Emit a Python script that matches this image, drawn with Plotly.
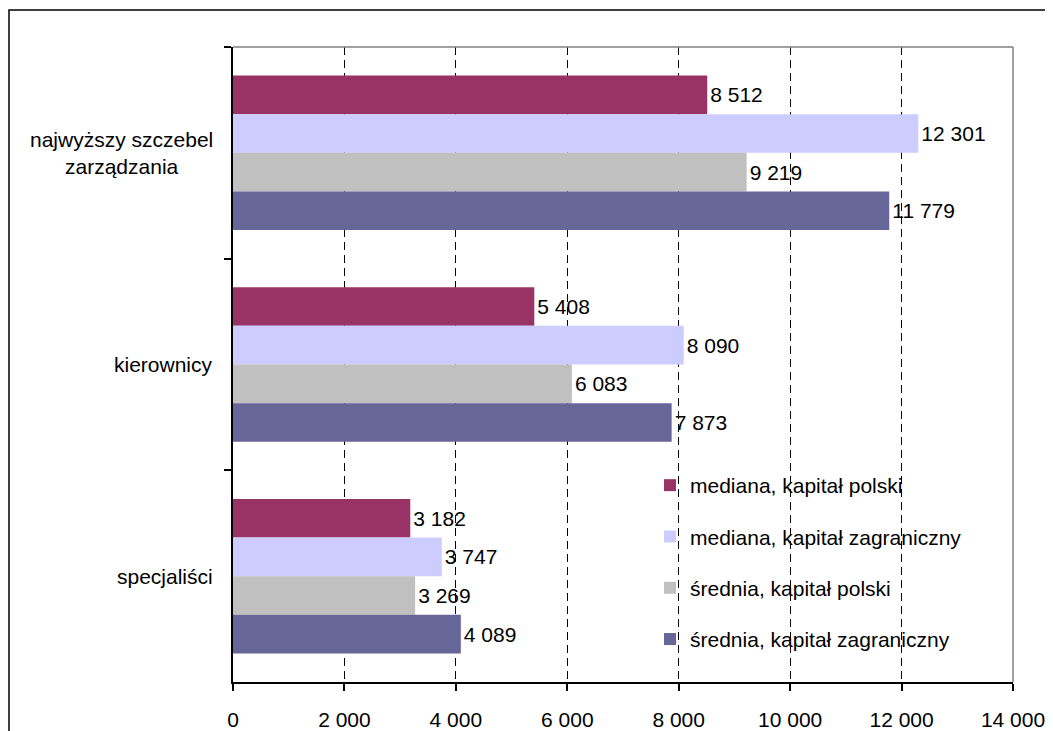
import plotly.graph_objects as go

categories = ["najwyższy szczebel zarządzania", "kierownicy", "specjaliści"]
category_labels = ["najwyższy szczebel<br>zarządzania", "kierownicy", "specjaliści"]
series_names = ["mediana, kapitał polski", "mediana, kapitał zagraniczny",
                "średnia, kapitał polski", "średnia, kapitał zagraniczny"]
mediana_polski = [8512, 5408, 3182]
mediana_zagraniczny = [12301, 8090, 3747]
srednia_polski = [9219, 6083, 3269]
srednia_zagraniczny = [11779, 7873, 4089]
x_ticks = [0, 2000, 4000, 6000, 8000, 10000, 12000, 14000]

series_values = [mediana_polski, mediana_zagraniczny, srednia_polski, srednia_zagraniczny]
colors = ["#993366", "#CCCCFF", "#C0C0C0", "#666699"]

FONT = "Liberation Sans, Arial, sans-serif"
FS = 21

fig = go.Figure()
for i, (name, vals) in enumerate(zip(series_names, series_values)):
    fig.add_trace(go.Bar(
        y=categories, x=vals, name=name, orientation="h",
        marker=dict(color=colors[i], line=dict(width=0)),
        text=vals, texttemplate="%{x:,d}", textposition="outside",
        textfont=dict(size=FS, color="black", family=FONT),
        cliponaxis=False, legendgroup=f"g{i}",
    ))

# page has an 8px body margin, so figure coordinates are offset by 8px
OFF = 8
W, H = 1053 - OFF, 731 - OFF
L, R, T, B = 233 - OFF, 1013 - OFF, 47 - OFF, 682 - OFF
pw, ph = R - L, B - T

def px_x(p):
    return (p - OFF - L) / pw

def px_y(p):
    return (B - (p - OFF)) / ph

shapes = [
    dict(type="line", xref="paper", yref="paper", x0=0, x1=1, y0=1, y1=1,
         line=dict(color="#808080", width=1.5), layer="above"),
    dict(type="line", xref="paper", yref="paper", x0=1, x1=1, y0=0, y1=1,
         line=dict(color="#808080", width=1.5), layer="above"),
    dict(type="rect", xref="paper", yref="paper",
         x0=px_x(9), x1=px_x(1090), y0=px_y(770), y1=px_y(10),
         line=dict(color="black", width=1.5), fillcolor="rgba(0,0,0,0)", layer="above"),
]

annotations = []
for cat, lab in zip(categories, category_labels):
    annotations.append(dict(
        xref="paper", yref="y", x=-18 / pw, y=cat, text=lab, showarrow=False,
        xanchor="right", yanchor="middle", align="center",
        font=dict(size=FS, color="black", family=FONT),
    ))

fig.update_layout(
    width=W, height=H,
    margin=dict(l=L, r=W - R, t=T, b=H - B, autoexpand=False),
    paper_bgcolor="white", plot_bgcolor="white",
    barmode="group", bargap=0.27, bargroupgap=0,
    separators=", ",
    font=dict(family=FONT, size=FS, color="black"),
    xaxis=dict(
        range=[0, 14000], tickvals=x_ticks, tickformat=",d",
        showgrid=True, gridcolor="black", gridwidth=1, griddash="8px,5px",
        showline=True, linecolor="black", linewidth=1.5,
        ticks="outside", ticklen=7, tickcolor="black", tickwidth=1.5,
        ticklabelstandoff=11, automargin=False,
        zeroline=False, tickfont=dict(size=FS, family=FONT),
        fixedrange=True,
    ),
    yaxis=dict(
        type="category", categoryorder="array", categoryarray=categories,
        autorange="reversed", showticklabels=False, showgrid=False,
        showline=True, linecolor="black", linewidth=1.5,
        ticks="outside", tickson="boundaries", ticklen=7, tickcolor="black", tickwidth=1.5,
        zeroline=False, automargin=False,
    ),
    legend=dict(
        x=px_x(650), y=px_y(465), xanchor="left", yanchor="top",
        bgcolor="rgba(0,0,0,0)", font=dict(size=FS, family=FONT),
        traceorder="grouped", tracegroupgap=21,
    ),
    shapes=shapes, annotations=annotations,
)

fig.write_html("out.html")
